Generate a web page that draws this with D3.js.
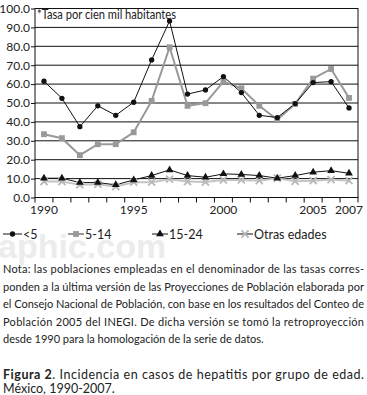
<!DOCTYPE html>
<html>
<head>
<meta charset="utf-8">
<script src="https://cdn.jsdelivr.net/npm/d3@7"></script>
<style>
  body { margin: 0; background: #fff; }
  svg text { font-family: Lato, "Open Sans", sans-serif; fill: #222; }
</style>
</head>
<body>
<div id="chart"></div>
<script>
// datos
var years = d3.range(1990, 2008);
var menor5 = [61.5, 52.5, 37.5, 48.5, 43.5, 50.4, 72.8, 93.4, 54.7, 56.9, 64.0, 55.5, 43.5, 42.3, 49.7, 60.8, 61.3, 47.4];
var de5a14 = [33.5, 31.4, 22.4, 28.2, 28.2, 34.5, 51.1, 79.5, 48.5, 49.9, 61.3, 57.8, 48.5, 41.1, 49.5, 62.9, 68.0, 52.7];
var de15a24 = [10.2, 10.2, 7.9, 7.9, 6.7, 9.3, 11.6, 14.6, 11.6, 10.7, 12.5, 12.2, 11.6, 10.2, 11.6, 13.4, 14.2, 12.8];
var otras = [8.4, 8.4, 6.7, 7.0, 5.8, 8.1, 8.1, 9.7, 8.4, 8.2, 9.3, 9.3, 8.9, 10.2, 8.6, 8.9, 9.5, 8.9];
var yTicks = [0, 10, 20, 30, 40, 50, 60, 70, 80, 90, 100];
var xLabels = [1990, 1995, 2000, 2005, 2007];
var seriesNames = ["<5", "5-14", "15-24", "Otras edades"];

var notaLines = [
  "Nota: las poblaciones empleadas en el denominador de las tasas corres-",
  "ponden a la última versión de las Proyecciones de Población elaborada por",
  "el Consejo Nacional de Población, con base en los resultados del Conteo de",
  "Población 2005 del INEGI. De dicha versión se tomó la retroproyección",
  "desde 1990 para la homologación de la serie de datos."
];

var W = 367, H = 395;
var pLeft = 35, pRight = 358, pTop = 8.5, pBottom = 197.5;

var svg = d3.select("#chart").append("svg")
    .attr("width", W)
    .attr("height", H);

// marca de agua
svg.append("text")
    .attr("x", -2).attr("y", 258)
    .style("font-family", "Arial, sans-serif")
    .style("font-size", "34px")
    .style("font-weight", "bold")
    .style("fill", "#ececec")
    .text("aphic.com");

var x = d3.scalePoint()
    .domain(years)
    .range([pLeft, pRight])
    .padding(0.5);

var y = d3.scaleLinear()
    .domain([0, 100])
    .range([pBottom, pTop]);

var step = x.step();

// lineas de la rejilla
svg.append("g")
    .selectAll("line")
    .data(yTicks)
    .enter().append("line")
    .attr("x1", pLeft).attr("x2", pRight)
    .attr("y1", d => y(d)).attr("y2", d => y(d))
    .style("stroke", "#111")
    .style("stroke-width", "1px");

// marco
svg.append("rect")
    .attr("x", pLeft).attr("y", pTop)
    .attr("width", pRight - pLeft).attr("height", pBottom - pTop)
    .style("fill", "none")
    .style("stroke", "#111")
    .style("stroke-width", "1px");

// eje y
var yAxis = svg.append("g")
    .attr("transform", "translate(" + pLeft + ",0)")
    .call(d3.axisLeft(y).tickValues(yTicks).tickFormat(d3.format(".1f")).tickSize(4).tickPadding(1));
yAxis.select(".domain").remove();
yAxis.selectAll("line").style("stroke", "#111");
yAxis.selectAll("text")
    .style("font-family", "Lato, sans-serif")
    .style("font-size", "12px")
    .style("fill", "#222");

// eje x: marcas en los limites de cada año
var xg = svg.append("g");
xg.selectAll("line")
    .data(years.concat([2008]))
    .enter().append("line")
    .attr("x1", d => d == 2008 ? pRight : x(d) - step / 2)
    .attr("x2", d => d == 2008 ? pRight : x(d) - step / 2)
    .attr("y1", pBottom).attr("y2", pBottom + 5)
    .style("stroke", "#111");
xg.selectAll("text")
    .data(xLabels)
    .enter().append("text")
    .attr("x", d => x(d))
    .attr("y", pBottom + 16.5)
    .attr("text-anchor", "middle")
    .style("font-size", "12px")
    .text(d => d);

// series
var line = d3.line()
    .x((d, i) => x(years[i]))
    .y(d => y(d));

function serie(data, color, width) {
    svg.append("path")
        .datum(data)
        .attr("d", line)
        .style("fill", "none")
        .style("stroke", color)
        .style("stroke-width", width);
}

serie(otras, "#c4c4c4", "2px");
serie(de15a24, "#111", "1px");
serie(de5a14, "#999", "2px");
serie(menor5, "#111", "1px");

// marcadores
var sym = {
    circle: d3.symbol().type(d3.symbolCircle).size(22),
    square: d3.symbol().type(d3.symbolSquare).size(34),
    triangle: d3.symbol().type(d3.symbolTriangle).size(26),
    cross: d3.symbol().type(d3.symbolTimes).size(34)
};

function marcas(data, s, color, stroke) {
    svg.append("g")
        .selectAll("path")
        .data(data)
        .enter().append("path")
        .attr("transform", (d, i) => "translate(" + x(years[i]) + "," + y(d) + ")")
        .attr("d", s)
        .style("fill", stroke ? "none" : color)
        .style("stroke", stroke ? color : "none")
        .style("stroke-width", stroke ? "1.8px" : null);
}

marcas(otras, sym.cross, "#b8b8b8", true);
marcas(de15a24, sym.triangle, "#111");
marcas(de5a14, sym.square, "#999");
marcas(menor5, sym.circle, "#111");

// etiqueta interna
svg.append("text")
    .attr("x", 37).attr("y", 19)
    .attr("textLength", 139)
    .attr("lengthAdjust", "spacingAndGlyphs")
    .style("font-size", "12.5px")
    .text("*Tasa por cien mil habitantes");

// leyenda
var legX = [3, 68, 152, 237];
var legStyle = [
    {c: "#111", w: 1, s: sym.circle, mc: "#111"},
    {c: "#999", w: 2, s: sym.square, mc: "#999"},
    {c: "#111", w: 1, s: sym.triangle, mc: "#111"},
    {c: "#111", w: 1, s: sym.cross, mc: "#b8b8b8", stroke: true}
];
var leg = svg.append("g").attr("transform", "translate(0,234)");
seriesNames.forEach(function(n, i) {
    var len = i == 0 ? 19 : 16;
    var g = leg.append("g").attr("transform", "translate(" + legX[i] + ",0)");
    g.append("line")
        .attr("x1", 0).attr("x2", len)
        .style("stroke", legStyle[i].c)
        .style("stroke-width", legStyle[i].w + "px");
    g.append("path")
        .attr("transform", "translate(" + (len / 2) + ",0)")
        .attr("d", legStyle[i].s)
        .style("fill", legStyle[i].stroke ? "none" : legStyle[i].mc)
        .style("stroke", legStyle[i].stroke ? legStyle[i].mc : "none")
        .style("stroke-width", "1.8px");
    g.append("text")
        .attr("x", len + 1).attr("y", 4.5)
        .style("font-size", "12.5px")
        .text(n);
});

// nota
svg.append("g")
    .selectAll("text")
    .data(notaLines)
    .enter().append("text")
    .attr("x", 3)
    .attr("y", (d, i) => 273 + i * 17.6)
    .attr("textLength", (d, i) => i < notaLines.length - 1 ? 361 : null)
    .attr("lengthAdjust", "spacing")
    .style("font-size", "11px")
    .text(d => d);

// pie de figura
var cap = svg.append("text")
    .attr("x", 3).attr("y", 379)
    .attr("textLength", 361)
    .attr("lengthAdjust", "spacing")
    .style("font-size", "12.5px");
cap.append("tspan").style("font-weight", "bold").text("Figura 2");
cap.append("tspan").text(". Incidencia en casos de hepatitis por grupo de edad.");
svg.append("text")
    .attr("x", 3).attr("y", 393)
    .style("font-size", "12.5px")
    .text("México,  1990-2007.");
</script>
</body>
</html>
